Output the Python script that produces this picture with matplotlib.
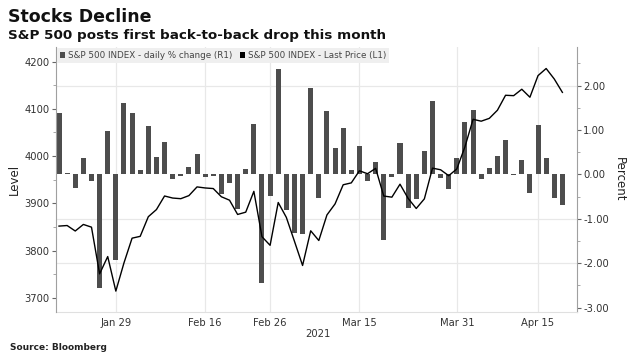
import matplotlib
matplotlib.use("Agg")
import matplotlib.pyplot as plt
from matplotlib.patches import Patch
from matplotlib.ticker import MultipleLocator, FormatStrFormatter

dates = ["Jan 20","Jan 21","Jan 22","Jan 25","Jan 26","Jan 27","Jan 28","Jan 29",
         "Feb 1","Feb 2","Feb 3","Feb 4","Feb 5","Feb 8","Feb 9","Feb 10","Feb 11","Feb 12",
         "Feb 16","Feb 17","Feb 18","Feb 19","Feb 22","Feb 23","Feb 24","Feb 25","Feb 26",
         "Mar 1","Mar 2","Mar 3","Mar 4","Mar 5","Mar 8","Mar 9","Mar 10","Mar 11","Mar 12",
         "Mar 15","Mar 16","Mar 17","Mar 18","Mar 19","Mar 22","Mar 23","Mar 24","Mar 25","Mar 26",
         "Mar 29","Mar 30","Mar 31","Apr 1","Apr 5","Apr 6","Apr 7","Apr 8","Apr 9",
         "Apr 12","Apr 13","Apr 14","Apr 15","Apr 16","Apr 19","Apr 20"]

pct_change = [1.39, 0.03, -0.30, 0.36, -0.15, -2.57, 0.98, -1.93,
              1.61, 1.39, 0.10, 1.09, 0.39, 0.74, -0.11, -0.03, 0.17, 0.47,
              -0.06, -0.03, -0.44, -0.19, -0.77, 0.13, 1.14, -2.45, -0.48,
              2.38, -0.81, -1.31, -1.34, 1.95, -0.54, 1.42, 0.60, 1.04, 0.10,
              0.65, -0.16, 0.29, -1.48, -0.06, 0.70, -0.76, -0.55, 0.52, 1.66,
              -0.09, -0.32, 0.36, 1.18, 1.44, -0.10, 0.15, 0.42, 0.77,
              -0.02, 0.33, -0.41, 1.11, 0.36, -0.53, -0.68]

last_price = [3851.85, 3853.07, 3841.47, 3855.36, 3849.62, 3750.77, 3787.38, 3714.24,
              3773.86, 3826.31, 3830.17, 3871.74, 3886.83, 3915.59, 3911.23, 3909.88, 3916.38, 3934.83,
              3932.59, 3931.33, 3913.97, 3906.71, 3876.50, 3881.37, 3925.43, 3829.34, 3811.15,
              3901.82, 3870.29, 3819.72, 3768.47, 3841.94, 3821.35, 3875.44, 3898.81, 3939.34, 3943.34,
              3968.94, 3962.71, 3974.12, 3915.46, 3913.10, 3940.59, 3910.52, 3889.14, 3909.52, 3974.54,
              3971.09, 3958.55, 3972.89, 4019.87, 4077.91, 4073.94, 4079.95, 4097.17, 4128.80,
              4127.99, 4141.59, 4124.66, 4170.42, 4185.47, 4163.26, 4134.94]

tick_labels = ["Jan 29", "Feb 16", "Feb 26", "Mar 15", "Mar 31", "Apr 15"]
left_ticks = [3700, 3800, 3900, 4000, 4100, 4200]
right_ticks = [-3, -2, -1, 0, 1, 2]
grid_levels = [2, -1, -2]

plt.rcParams['font.family'] = ['DejaVu Sans']

fig = plt.figure(figsize=(6.35, 3.58), dpi=100)
ax = fig.add_axes([56/635, 1-312/358, (577-56)/635, (312-47)/358])
ax2 = ax.twinx()

x = list(range(len(dates)))
bar_color = '#4d4d4d'
ax.bar(x, pct_change, width=0.62, color=bar_color, zorder=2)
ax2.plot(x, last_price, color='black', lw=1.0, zorder=3)

grid_c = '#e8e8e8'
for g in grid_levels:
    ax.axhline(g, color=grid_c, lw=0.9, zorder=0)
tick_pos = [dates.index(t) for t in tick_labels]
for p in tick_pos:
    ax.axvline(p, color=grid_c, lw=0.9, zorder=0)

ax.set_xlim(-0.37, 63.8)
ax.set_ylim(-3.10, 2.87)
ax2.set_ylim(3670, 4231)

# right axis (percent) belongs to bars
ax.yaxis.tick_right()
ax.yaxis.set_label_position('right')
ax.set_yticks(right_ticks)
ax.yaxis.set_major_formatter(FormatStrFormatter('%.2f'))
ax.yaxis.set_minor_locator(MultipleLocator(0.5))
ax2.yaxis.tick_left()
ax2.yaxis.set_label_position('left')
ax2.set_yticks(left_ticks)
ax2.yaxis.set_minor_locator(MultipleLocator(50))

ax.set_xticks(tick_pos)
ax.set_xticklabels(tick_labels)

spine_c = '#a0a0a0'
tick_c = '#333333'
for a in (ax, ax2):
    for s in a.spines.values():
        s.set_visible(False)
ax.spines['right'].set_visible(True)
ax.spines['right'].set_color(spine_c)
ax2.spines['left'].set_visible(True)
ax2.spines['left'].set_color(spine_c)
ax.spines['bottom'].set_visible(True)
ax.spines['bottom'].set_color('#e0e0e0')

ax.tick_params(axis='x', length=0, labelsize=7.2, colors=tick_c, pad=4)
ax.tick_params(axis='y', which='major', length=3, width=0.8, color='#666666',
               labelsize=7.2, labelcolor=tick_c, pad=1.5, direction='out')
ax.tick_params(axis='y', which='minor', length=2, width=0.6, color='#999999')
ax2.tick_params(axis='y', which='major', length=3, width=0.8, color='#666666',
                labelsize=7.2, labelcolor=tick_c, pad=1.5, direction='out')
ax2.tick_params(axis='y', which='minor', length=2, width=0.6, color='#999999')

ax.set_ylabel('Percent', rotation=270, fontsize=8.5, color='#222222', labelpad=12)
ax2.set_ylabel('Level', fontsize=8.5, color='#222222', labelpad=3)

handles = [Patch(facecolor=bar_color, edgecolor='none'), Patch(facecolor='black', edgecolor='none')]
labels = ["S&P 500 INDEX - daily % change (R1)", "S&P 500 INDEX - Last Price (L1)"]
leg = ax2.legend(handles, labels, loc='upper left', bbox_to_anchor=(0, 1.0), ncol=2,
                 fontsize=6.3, frameon=True, fancybox=False, borderaxespad=0.1,
                 handlelength=0.6, handleheight=0.6, handletextpad=0.3, columnspacing=0.9,
                 borderpad=0.35, labelcolor='#444444')
leg.get_frame().set_facecolor('#efefef')
leg.get_frame().set_edgecolor('none')
leg.get_frame().set_alpha(1)

fig.text(8/635, 1-17/358, 'Stocks Decline', fontsize=12.5, fontweight='bold', color='#111111',
         va='center', ha='left')
fig.text(8/635, 1-35/358, 'S&P 500 posts first back-to-back drop this month', fontsize=9.7,
         fontweight='bold', color='#111111', va='center', ha='left')
fig.text(318/635, 1-334/358, '2021', fontsize=7.2, color=tick_c, va='center', ha='center')
fig.text(10/635, 1-347/358, 'Source: Bloomberg', fontsize=6.5, fontweight='bold',
         color='#222222', va='center', ha='left')

fig.savefig('out.png', dpi=100)
